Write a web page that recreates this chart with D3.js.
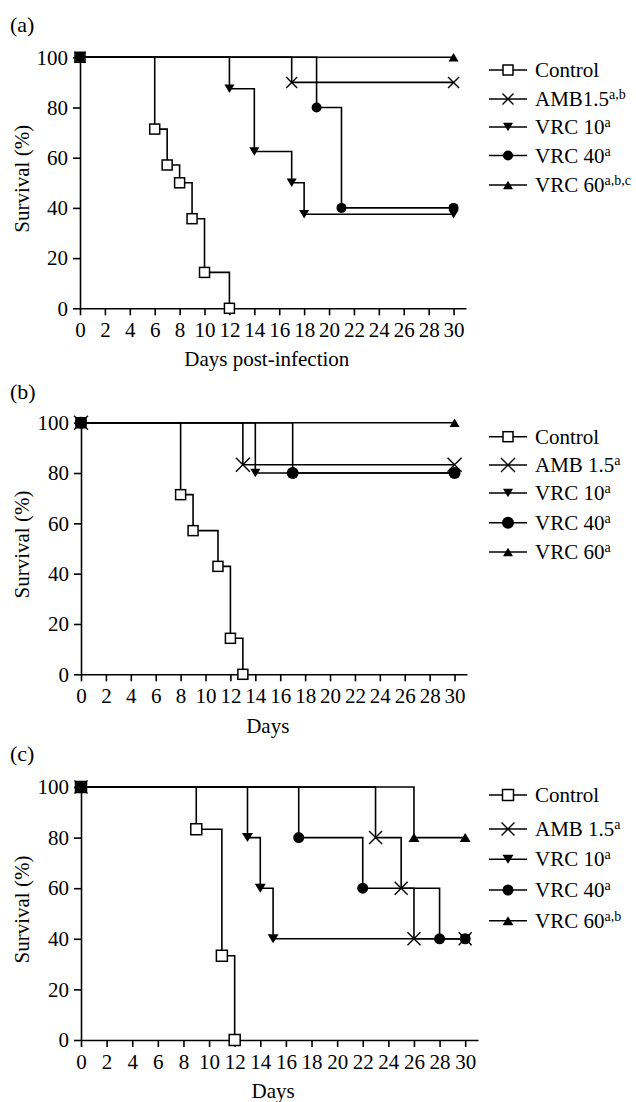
<!DOCTYPE html>
<html>
<head>
<meta charset="utf-8">
<script src="https://cdn.jsdelivr.net/npm/d3@7/dist/d3.min.js"></script>
<style>
  html, body { margin: 0; padding: 0; background: #fff; }
  svg { display: block; }
</style>
</head>
<body>
<script>
// Survival curves, three experiments (a), (b), (c)

const dayTicks = [0, 2, 4, 6, 8, 10, 12, 14, 16, 18, 20, 22, 24, 26, 28, 30];
const survivalTicks = [0, 20, 40, 60, 80, 100];
const seriesKeys = ["control", "amb", "vrc10", "vrc40", "vrc60"];

// Panel (a)
const aControlDays = [0, 6, 7, 8, 9, 10, 12];
const aControlSurv = [100, 71.4, 57.1, 50, 35.7, 14.3, 0];
const aAmbDays = [0, 17, 30];
const aAmbSurv = [100, 90, 90];
const aVrc10Days = [0, 12, 14, 17, 18, 30];
const aVrc10Surv = [100, 87.5, 62.5, 50, 37.5, 37.5];
const aVrc40Days = [0, 19, 21, 30];
const aVrc40Surv = [100, 80, 40, 40];
const aVrc60Days = [0, 30];
const aVrc60Surv = [100, 100];
const aLabels = [["Control", ""], ["AMB1.5", "a,b"], ["VRC 10", "a"], ["VRC 40", "a"], ["VRC 60", "a,b,c"]];

// Panel (b)
const bControlDays = [0, 8, 9, 11, 12, 13];
const bControlSurv = [100, 71.4, 57.1, 42.9, 14.3, 0];
const bAmbDays = [0, 13, 30];
const bAmbSurv = [100, 83.3, 83.3];
const bVrc10Days = [0, 14, 30];
const bVrc10Surv = [100, 80, 80];
const bVrc40Days = [0, 17, 30];
const bVrc40Surv = [100, 80, 80];
const bVrc60Days = [0, 30];
const bVrc60Surv = [100, 100];
const bLabels = [["Control", ""], ["AMB 1.5", "a"], ["VRC 10", "a"], ["VRC 40", "a"], ["VRC 60", "a"]];

// Panel (c)
const cControlDays = [0, 9, 11, 12];
const cControlSurv = [100, 83.3, 33.3, 0];
const cAmbDays = [0, 23, 25, 26, 30];
const cAmbSurv = [100, 80, 60, 40, 40];
const cVrc10Days = [0, 13, 14, 15, 30];
const cVrc10Surv = [100, 80, 60, 40, 40];
const cVrc40Days = [0, 17, 22, 28, 30];
const cVrc40Surv = [100, 80, 60, 40, 40];
const cVrc60Days = [0, 26, 30];
const cVrc60Surv = [100, 80, 80];
const cLabels = [["Control", ""], ["AMB 1.5", "a"], ["VRC 10", "a"], ["VRC 40", "a"], ["VRC 60", "a,b"]];

const FONT = "'Liberation Serif', 'Times New Roman', serif";
const W = 636, H = 1102;

const svg = d3.select("body").append("svg")
  .attr("width", W).attr("height", H)
  .attr("viewBox", `0 0 ${W} ${H}`)
  .style("font-family", FONT);

function zip(days, surv) { return days.map((d, i) => ({ day: d, surv: surv[i] })); }

const panels = [
  {
    tag: "(a)", tagY: 32, xTitle: "Days post-infection", xTitleY: 366,
    x0: 80, xEnd: 466, yTop: 57.3, yBot: 308.3,
    legendY: [70, 99, 127, 155.5, 185], labels: aLabels,
    sz: { sq: 10, r: 5, tw: 10, th: 8.5, xh: 5.5 },
    series: [zip(aControlDays, aControlSurv), zip(aAmbDays, aAmbSurv), zip(aVrc10Days, aVrc10Surv),
             zip(aVrc40Days, aVrc40Surv), zip(aVrc60Days, aVrc60Surv)]
  },
  {
    tag: "(b)", tagY: 399, xTitle: "Days", xTitleY: 733,
    x0: 81, xEnd: 467, yTop: 422.7, yBot: 674.3,
    legendY: [436.7, 465, 493, 522.7, 552], labels: bLabels,
    sz: { sq: 10, r: 6, tw: 10, th: 8.5, xh: 7 },
    series: [zip(bControlDays, bControlSurv), zip(bAmbDays, bAmbSurv), zip(bVrc10Days, bVrc10Surv),
             zip(bVrc40Days, bVrc40Surv), zip(bVrc60Days, bVrc60Surv)]
  },
  {
    tag: "(c)", tagY: 761, xTitle: "Days", xTitleY: 1098,
    x0: 81, xEnd: 478, yTop: 787, yBot: 1040,
    legendY: [795, 829, 859.3, 890, 920.7], labels: cLabels,
    sz: { sq: 11, r: 5.5, tw: 11, th: 9, xh: 6.5 },
    series: [zip(cControlDays, cControlSurv), zip(cAmbDays, cAmbSurv), zip(cVrc10Days, cVrc10Surv),
             zip(cVrc40Days, cVrc40Surv), zip(cVrc60Days, cVrc60Surv)]
  }
];

const STROKE = 1.6;

function marker(g, key, x, y, sz) {
  const s = g.append("g").attr("transform", `translate(${x},${y})`);
  if (key === "control") {
    s.append("rect").attr("x", -sz.sq / 2).attr("y", -sz.sq / 2)
      .attr("width", sz.sq).attr("height", sz.sq)
      .attr("fill", "#fff").attr("stroke", "#000").attr("stroke-width", 1.5);
  } else if (key === "amb") {
    const h = sz.xh;
    s.append("path").attr("d", `M${-h},${-h}L${h},${h}M${-h},${h}L${h},${-h}`)
      .attr("stroke", "#000").attr("stroke-width", 1.4).attr("fill", "none");
  } else if (key === "vrc10") {
    const w = sz.tw / 2, h = sz.th / 2;
    s.append("path").attr("d", `M${-w},${-h}L${w},${-h}L0,${h}Z`).attr("fill", "#000");
  } else if (key === "vrc40") {
    s.append("circle").attr("r", sz.r).attr("fill", "#000");
  } else if (key === "vrc60") {
    const w = sz.tw / 2, h = sz.th / 2;
    s.append("path").attr("d", `M${-w},${h}L${w},${h}L0,${-h}Z`).attr("fill", "#000");
  }
}

panels.forEach(p => {
  const g = svg.append("g");
  const x = d3.scaleLinear().domain([0, 31]).range([p.x0, p.xEnd]);
  const y = d3.scaleLinear().domain([0, 100]).range([p.yBot, p.yTop]);

  // panel tag
  g.append("text").attr("x", 10).attr("y", p.tagY)
    .attr("font-size", 22).text(p.tag);

  // axes
  const xAxis = d3.axisBottom(x).tickValues(dayTicks).tickSize(7).tickSizeOuter(0).tickPadding(7);
  const yAxis = d3.axisLeft(y).tickValues(survivalTicks).tickSize(7).tickSizeOuter(0).tickPadding(5);

  const gx = g.append("g").attr("transform", `translate(0,${p.yBot})`).call(xAxis);
  const gy = g.append("g").attr("transform", `translate(${p.x0},0)`).call(yAxis);
  [gx, gy].forEach(a => {
    a.attr("font-family", FONT).attr("font-size", 21);
    a.selectAll("path, line").attr("stroke", "#000").attr("stroke-width", STROKE);
    a.selectAll("text").attr("fill", "#000");
  });

  // axis titles
  g.append("text").attr("x", (p.x0 + x(30)) / 2).attr("y", p.xTitleY)
    .attr("text-anchor", "middle").attr("font-size", 21).text(p.xTitle);
  const cy = (p.yTop + p.yBot) / 2 - 4;
  g.append("text").attr("transform", `translate(29,${cy}) rotate(-90)`)
    .attr("text-anchor", "middle").attr("font-size", 21).text("Survival (%)");

  // step curves
  const line = d3.line().x(d => x(d.day)).y(d => y(d.surv)).curve(d3.curveStepAfter);
  p.series.forEach((pts, i) => {
    g.append("path").attr("d", line(pts))
      .attr("fill", "none").attr("stroke", "#000").attr("stroke-width", STROKE);
  });
  p.series.forEach((pts, i) => {
    pts.forEach(d => marker(g, seriesKeys[i], x(d.day), y(d.surv), p.sz));
  });

  // legend
  p.labels.forEach((lab, i) => {
    const ly = p.legendY[i];
    g.append("line").attr("x1", 489).attr("x2", 527).attr("y1", ly).attr("y2", ly)
      .attr("stroke", "#000").attr("stroke-width", STROKE);
    marker(g, seriesKeys[i], 508, ly, p.sz);
    const t = g.append("text").attr("x", 535).attr("y", ly + 7).attr("font-size", 21);
    t.append("tspan").text(lab[0]);
    if (lab[1]) t.append("tspan").attr("font-size", 14).attr("dy", -7).text(lab[1]);
  });
});
</script>
</body>
</html>
